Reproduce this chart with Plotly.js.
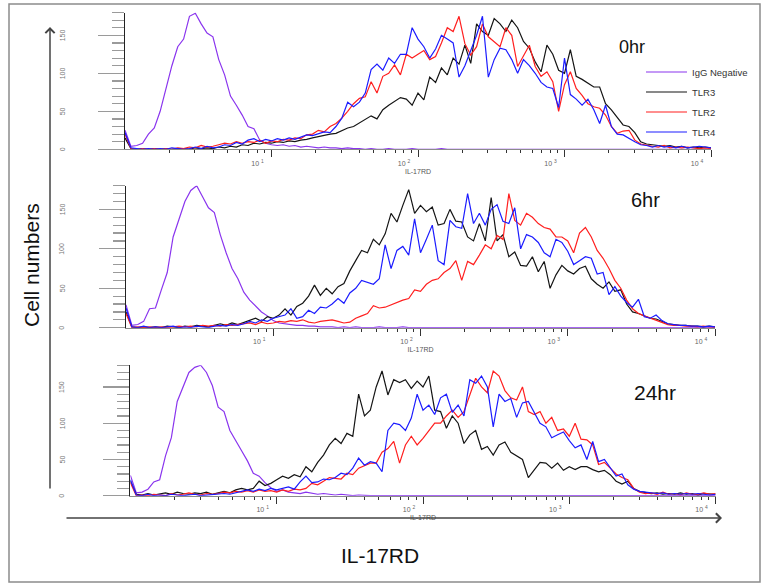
<!DOCTYPE html>
<html>
<head>
<meta charset="utf-8">
<script src="https://cdn.plot.ly/plotly-3.0.1.min.js"></script>
<style>html,body{margin:0;padding:0;background:#fff;}#chart{width:765px;height:585px;}</style>
</head>
<body>
<div id="chart"></div>
<script>
// log10 of IL-17RD fluorescence intensity (histogram channel centres)
const logIntensity = [0.00,0.04,0.08,0.12,0.16,0.20,0.24,0.28,0.32,0.36,0.40,0.44,0.48,0.52,0.56,0.60,0.64,0.68,0.72,0.76,
0.80,0.84,0.88,0.92,0.96,1.00,1.04,1.08,1.12,1.16,1.20,1.24,1.28,1.32,1.36,1.40,1.44,1.48,1.52,1.56,
1.60,1.64,1.68,1.72,1.76,1.80,1.84,1.88,1.92,1.96,2.00,2.04,2.08,2.12,2.16,2.20,2.24,2.28,2.32,2.36,
2.40,2.44,2.48,2.52,2.56,2.60,2.64,2.68,2.72,2.76,2.80,2.84,2.88,2.92,2.96,3.00,3.04,3.08,3.12,3.16,
3.20,3.24,3.28,3.32,3.36,3.40,3.44,3.48,3.52,3.56,3.60,3.64,3.68,3.72,3.76,3.80,3.84,3.88,3.92,3.96,4.00];

const seriesNames = ['IgG Negative','TLR3','TLR2','TLR4'];
const panelLabels = ['0hr','6hr','24hr'];
const tickDecades = [10,100,1000,10000];
const tickText = ['10 <sup>1</sup>','10 <sup>2</sup>','10 <sup>3</sup>','10 <sup>4</sup>'];
const yTickVals = [0,50,100,150];

// ---- 0hr ----
const igg_0hr = [25,4,5,8,20,28,50,80,110,135,145,175,179,165,153,148,118,98,70,58,45,30,27,12,8,6,
5,6,4,5,3,4,3,2,3,2,2,1,2,1,1,
0,1,0,0,1,0,0,0,1,0,0,0,0,1,0,0,0,0,0,0,0,0,0,0,0,0,0,0,0,0,0,0,0,0,0,0,0,0,0,0,0,0,0,0,0,0,0,0,0,0,0,0,0,0,0,0,0,0,0,0];
const tlr3_0hr = [15,1,0,1,0,1,0,1,0,1,1,0,2,1,2,1,3,2,4,3,
6,5,8,7,9,8,10,9,11,10,12,13,15,17,19,20,21,25,28,30,35,
40,44,40,52,58,63,68,66,58,74,65,95,88,107,98,120,112,137,113,165,
155,150,172,165,155,170,160,142,133,115,102,137,125,104,100,131,96,92,87,82,
82,60,52,42,32,30,22,10,7,6,5,4,5,3,4,2,3,2,3,2];
const tlr2_0hr = [20,1,0,1,0,1,0,1,0,2,1,3,2,5,3,4,6,8,7,10,
8,10,9,12,8,11,10,13,12,15,14,19,20,25,23,30,34,41,50,60,67,
69,89,74,96,100,111,98,125,120,125,130,118,122,140,160,155,175,139,124,135,
165,148,142,135,160,150,109,124,137,109,96,102,89,50,85,102,80,71,60,56,
54,45,30,21,24,25,12,7,5,4,3,5,2,3,2,3,2,1,2,1];
const tlr4_0hr = [22,2,1,0,1,0,1,0,2,1,0,1,3,1,4,2,3,6,5,9,
7,12,14,10,13,11,14,12,15,13,16,19,18,20,23,22,30,41,62,56,62,
74,105,112,104,120,113,125,125,160,145,135,120,132,150,145,140,95,110,130,150,
175,95,118,133,131,118,100,118,110,100,88,82,80,55,120,72,66,58,66,52,
34,58,30,20,19,14,10,6,5,3,5,3,4,2,4,2,3,4,3,2];

// ---- 6hr ----
const igg_6hr = [29,3,4,8,24,25,48,70,115,138,160,174,180,166,152,146,118,95,75,62,45,35,27,20,15,9,
6,5,4,3,3,2,2,1,1,1,0,1,0,1,0,
0,0,1,0,0,0,1,0,0,0,0,0,0,0,0,0,0,0,0,0,0,0,0,0,0,0,0,0,0,0,0,0,0,0,0,0,0,0,0,0,0,0,0,0,0,0,0,0,0,0,0,0,0,0,0,0,0,0,0,0];
const tlr3_6hr = [20,1,0,1,0,1,0,2,1,0,2,1,3,2,1,3,5,3,6,4,7,
10,12,8,14,12,16,24,16,27,31,40,54,41,50,43,52,56,72,85,98,
95,112,105,119,145,134,155,175,145,155,147,153,130,132,150,135,134,115,110,132,
110,165,110,118,90,96,79,78,90,71,84,50,67,79,72,68,75,78,62,55,
50,58,46,48,30,20,18,15,12,11,8,5,4,3,3,2,2,1,2,1];
const tlr2_6hr = [18,0,1,0,1,0,1,0,1,2,1,2,1,3,2,3,2,4,3,4,5,
6,4,7,5,6,8,7,9,8,10,7,6,8,9,10,8,6,7,12,15,
18,28,25,26,29,33,35,37,48,46,55,60,62,70,75,85,60,84,80,92,
105,100,117,112,170,136,130,145,140,132,127,125,115,115,110,95,120,127,115,98,
88,75,60,50,35,24,18,15,12,10,6,4,3,3,2,2,1,2,1,1];
const tlr4_6hr = [25,1,0,2,0,1,0,1,2,0,1,0,2,1,0,2,3,2,4,3,5,
8,6,10,8,12,14,16,24,12,14,22,18,26,25,30,37,31,44,50,60,
57,55,62,105,75,98,103,92,138,95,112,130,85,80,136,128,126,170,132,145,
130,150,156,135,132,152,100,118,115,108,95,90,112,108,97,80,85,90,88,68,
70,42,52,40,32,26,36,14,12,16,9,5,4,3,3,2,2,1,2,1];

// ---- 24hr ----
const igg_24hr = [28,4,5,9,19,22,55,80,130,150,170,177,180,170,152,122,116,90,75,62,48,31,27,18,11,6,
8,5,4,3,5,3,2,3,2,1,2,1,0,1,0,
0,0,0,1,0,0,0,0,1,0,0,0,0,0,0,0,0,0,0,0,0,0,0,0,0,0,0,0,0,0,0,0,0,0,0,0,0,0,0,0,0,0,0,0,0,0,0,0,0,0,0,0,0,0,0,0,0,0,0,0];
const tlr3_24hr = [20,2,1,3,1,2,4,2,5,3,2,4,3,5,2,4,6,4,8,10,8,
10,20,14,17,22,27,24,29,26,40,33,46,56,70,79,72,86,82,140,110,
118,150,172,139,160,156,160,148,158,150,165,118,116,93,110,100,72,84,90,64,
68,56,70,74,60,55,50,25,36,46,45,38,45,35,40,36,40,40,36,33,
35,29,20,16,20,10,6,4,3,4,2,3,2,4,2,3,1,3,2,2];
const tlr2_24hr = [18,0,1,0,2,1,0,3,1,2,4,2,1,3,2,3,5,4,6,5,7,
5,8,6,7,5,8,6,9,8,10,17,15,20,25,24,23,31,29,38,41,
45,45,60,65,75,45,70,82,70,79,90,100,100,110,118,108,116,140,162,150,
142,172,165,145,135,132,150,116,112,116,100,108,90,92,82,100,78,77,70,43,
46,38,30,25,22,10,5,3,4,2,5,2,3,1,4,2,2,4,2,3];
const tlr4_24hr = [22,1,0,2,0,1,0,2,1,0,1,2,0,1,2,2,3,2,4,6,8,
6,9,7,10,8,10,12,9,19,27,18,19,23,22,25,31,29,38,52,42,
47,45,33,90,100,98,90,107,140,118,125,112,135,140,115,125,110,160,155,165,
150,95,140,130,134,108,128,130,115,100,95,80,84,88,76,66,70,50,75,47,
50,38,27,30,15,9,6,5,4,3,4,2,3,2,3,2,3,2,1,2];

const panelData = [
  [igg_0hr, tlr3_0hr, tlr2_0hr, tlr4_0hr],
  [igg_6hr, tlr3_6hr, tlr2_6hr, tlr4_6hr],
  [igg_24hr, tlr3_24hr, tlr2_24hr, tlr4_24hr]
];

// ---------- styling / layout (not data) ----------
const W = 765, H = 585;
const colors = ['#8a35ee', '#151515', '#ff1f1f', '#1c1cff'];
const groups = ['igg','tlr3','tlr2','tlr4'];
const xIntensity = logIntensity.map(e => Math.pow(10, e));

// pixel boxes of the three panels: [left, right, y of count 0, y of count 180]
const panelBoxes = [
  [125, 711, 149.3, 12.5],
  [126, 715, 327.7, 185.7],
  [130.4, 715.6, 495.7, 365.2]
];
const labelPos = [[632, 47, 18], [645, 200, 20], [655, 393, 21]];
const yLabelPx = 62;   // x pixel of the rotated y tick labels

const minorVals = [];
[1,10,100,1000].forEach(d => { for (let m = 2; m <= 9; m++) minorVals.push(d*m); });

const traces = [];
const layout = {
  width: W, height: H,
  margin: {l:0, r:0, t:0, b:0},
  paper_bgcolor: '#fff', plot_bgcolor: 'rgba(0,0,0,0)',
  font: {family: 'Liberation Sans, Arial, sans-serif', color: '#222'},
  showlegend: true,
  legend: {x: 641/W, y: 1 - 57.5/H, xanchor: 'left', yanchor: 'top',
           font: {size: 9.5, color: '#333'}, bgcolor: 'rgba(0,0,0,0)',
           itemwidth: 41, traceorder: 'grouped', tracegroupgap: 1},
  annotations: [], shapes: []
};

panelData.forEach((series, p) => {
  const sfx = p === 0 ? '' : String(p + 1);
  const box = panelBoxes[p];
  series.forEach((vals, s) => {
    traces.push({
      type: 'scatter', mode: 'lines',
      x: xIntensity, y: vals,
      xaxis: 'x' + sfx, yaxis: 'y' + sfx,
      name: seriesNames[s], legendgroup: groups[s],
      showlegend: p === 0,
      line: {color: colors[s], width: 1.2},
      hoverinfo: 'skip'
    });
  });

  layout['xaxis' + sfx] = {
    domain: [box[0]/W, box[1]/W], anchor: 'y' + sfx,
    type: 'log', range: [0, 4],
    showline: true, linecolor: '#8a8a8a', linewidth: 1,
    showgrid: false, zeroline: false,
    ticks: 'outside', ticklen: 7, tickwidth: 1, tickcolor: '#333',
    tickmode: 'array', tickvals: tickDecades, ticktext: tickText,
    tickfont: {size: 7, color: '#666'}, ticklabelshift: -14,
    minor: {tickmode: 'array', tickvals: minorVals, ticks: 'outside', ticklen: 3, tickcolor: '#333', tickwidth: 1, showgrid: false},
    title: {text: 'IL-17RD', font: {size: 7, color: '#555'}, standoff: 3},
    fixedrange: true
  };
  layout['yaxis' + sfx] = {
    domain: [1 - box[2]/H, 1 - box[3]/H], anchor: 'x' + sfx,
    range: [0, 180],
    showline: true, linecolor: '#222', linewidth: 1.5,
    showgrid: false, zeroline: false,
    ticks: 'outside', ticklen: 26, tickwidth: 1.2, tickcolor: '#9a9a9a',
    tickmode: 'array', tickvals: yTickVals, showticklabels: false,
    minor: {dtick: 10, tick0: 0, ticks: 'outside', ticklen: 12, tickwidth: 1.2, tickcolor: '#9a9a9a', showgrid: false},
    fixedrange: true
  };
  // rotated count labels, placed on the panel's own y scale, far left of the ticks
  yTickVals.forEach(v => {
    layout.annotations.push({
      xref: 'paper', yref: 'y' + sfx, x: yLabelPx / W, y: v,
      text: String(v), textangle: -90, showarrow: false,
      font: {size: 7, color: '#777'}, xanchor: 'center', yanchor: 'middle'
    });
  });
  layout.annotations.push({
    xref: 'paper', yref: 'paper', x: labelPos[p][0]/W, y: 1 - labelPos[p][1]/H,
    text: panelLabels[p], showarrow: false, font: {size: labelPos[p][2], color: '#111'},
    xanchor: 'center', yanchor: 'middle'
  });
});

// big outer axis arrows and labels
layout.annotations.push(
  {xref: 'paper', yref: 'paper', x: 50/W, y: 1 - 27/H, ax: 0, ay: 463, axref: 'pixel', ayref: 'pixel',
   text: '', showarrow: true, arrowhead: 4, arrowsize: 1.2, arrowwidth: 1.5, arrowcolor: '#444', standoff: 0},
  {xref: 'paper', yref: 'paper', x: 722/W, y: 1 - 518/H, ax: -657, ay: 0, axref: 'pixel', ayref: 'pixel',
   text: '', showarrow: true, arrowhead: 4, arrowsize: 1.2, arrowwidth: 1.5, arrowcolor: '#444', standoff: 0},
  {xref: 'paper', yref: 'paper', x: 32/W, y: 1 - 265/H, text: 'Cell numbers', textangle: -90,
   showarrow: false, font: {size: 21, color: '#111'}, xanchor: 'center', yanchor: 'middle'},
  {xref: 'paper', yref: 'paper', x: 380/W, y: 1 - 555/H, text: 'IL-17RD',
   showarrow: false, font: {size: 21, color: '#111'}, xanchor: 'center', yanchor: 'middle'}
);

layout.shapes.push({type: 'rect', xref: 'paper', yref: 'paper',
  x0: 9/W, x1: 760/W, y0: 1 - 582/H, y1: 1 - 4/H,
  line: {color: '#8c8c8c', width: 1.5}, fillcolor: 'rgba(0,0,0,0)'});

Plotly.newPlot('chart', traces, layout, {displayModeBar: false, staticPlot: true});
</script>
</body>
</html>
